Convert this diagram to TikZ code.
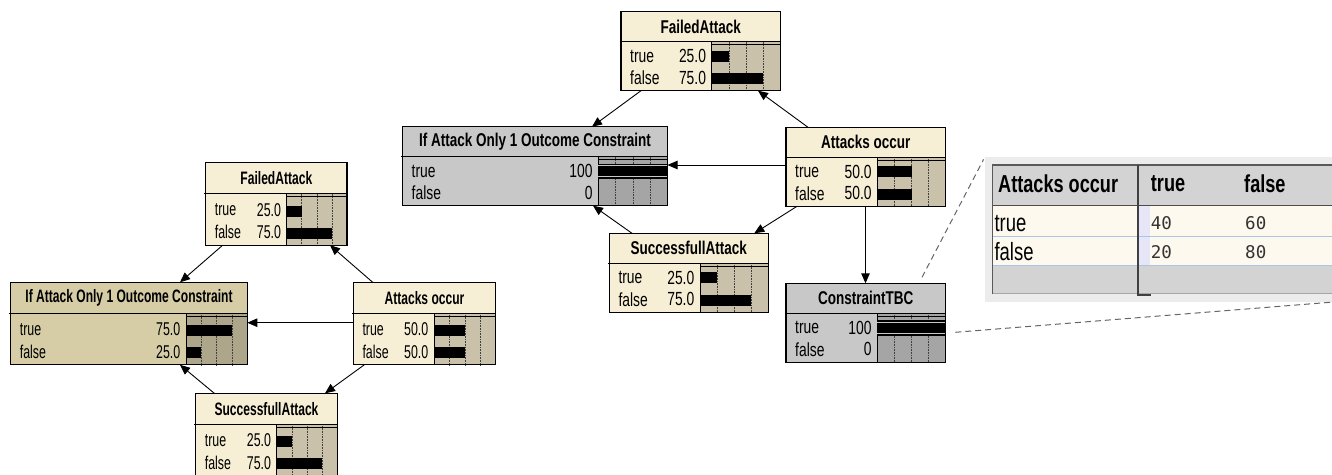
\documentclass[tikz,border=0pt]{standalone}
\usepackage{fontspec}
\setmainfont{Liberation Sans}
\newfontfamily\bnfontL{Liberation Sans}[FakeStretch=0.67]
\newfontfamily\bnfontR{Liberation Sans}[FakeStretch=0.73]
\newfontfamily\cptfont{Liberation Sans}[FakeStretch=0.74]
\newfontfamily\cptmono{DejaVu Sans Mono}
\usetikzlibrary{arrows.meta,calc}

% node palettes
\definecolor{creambody}{HTML}{F7EFD5}
\definecolor{creambar}{HTML}{C9C1A9}
\definecolor{khakibody}{HTML}{D6CDA7}
\definecolor{khakibar}{HTML}{ADA68B}
\definecolor{greybody}{HTML}{C8C8C8}
\definecolor{greybar}{HTML}{A5A5A5}
% probability table colours
\definecolor{cptpanel}{HTML}{ECECEC}
\definecolor{cpthead}{HTML}{D3D3D3}
\definecolor{cptrow}{HTML}{FDF9EF}
\definecolor{cptsel}{HTML}{E6E6F8}
\definecolor{cptblue}{HTML}{A9C6E6}
\definecolor{zoomline}{HTML}{666666}

\tikzset{
  bnframe/.style={draw=black, line width=1.2pt, inner sep=0pt, outer sep=0pt},
  bnedge/.style={draw=black, line width=1.2pt},
  bnsep/.style={line width=0.9pt},
  bntick/.style={densely dotted, line width=0.6pt, black!75},
  bntitle/.style={font=\bnfont\bfseries\fontsize{\bntsize}{\bntsize}\selectfont, inner sep=0pt},
  bntext/.style={font=\bnfont\fontsize{\bnsize}{\bnsize}\selectfont, inner sep=0pt},
  fullgap/.style={draw=greybody, line width=0.8pt},
  conn/.style={-{Triangle[length=10pt,width=8.5pt]}, line width=0.9pt},
  zoomdash/.style={draw=zoomline, line width=1pt, dash pattern=on 6pt off 4pt},
  cpthdr/.style={font=\cptfont\bfseries\fontsize{24.5}{26}\selectfont, inner sep=0pt, anchor=west},
  cpttxt/.style={font=\cptfont\fontsize{25}{26}\selectfont, inner sep=0pt, anchor=west},
  cptnum/.style={font=\cptmono\fontsize{17.5}{20}\selectfont, text=black!80, inner sep=0pt, anchor=west},
}

% #1 name, #2 x, #3 y (top), #4 width, #5 bar area width, #6 palette, #7 title
\newcommand\bnnode[7]{%
  \node[bnframe, fill=#6body, minimum width=#4pt, minimum height=\bnh, anchor=north west] (#1) at (#2,#3) {};
  \fill[#6bar] ([xshift=-#5pt, yshift=-\bnt]#1.north east) rectangle (#1.south east);
  \foreach \f in {0.25,0.5,0.75}
    \draw[bntick] ([xshift=-#5pt+\f*#5pt, yshift=-\bnt]#1.north east) -- ([xshift=-#5pt+\f*#5pt]#1.south east);
  \draw[line width=0.6pt] ([xshift=-#5pt, yshift=-\bnt-2.5pt]#1.north east) -- ([yshift=-\bnt-2.5pt]#1.north east);
  \draw[bnsep] ([xshift=-1.5pt, yshift=-\bnt]#1.north west) -- ([yshift=-\bnt]#1.north east);
  \draw[bnsep] ([xshift=-#5pt, yshift=-\bnt]#1.north east) -- ([xshift=-#5pt]#1.south east);
  \node[bntitle] (#1-title) at ([yshift=-\bnt/2]#1.north) {#7};
}
% #1 name, #2 text offset, #3 bar offset, #4 label, #5 value, #6 percent, #7 bar area width
\newcommand\bnrow[7]{%
  \node[bntext, anchor=west] (#1-#4) at ([xshift=9pt, yshift=-\bnt-#2pt]#1.north west) {#4};
  \node[bntext, anchor=east] (#1-#4v) at ([xshift=-#7pt-5.5pt, yshift=-\bnt-#2pt]#1.north east) {#5};
  \fill ([xshift=-#7pt, yshift=-\bnt-#3pt]#1.north east) rectangle ++({#6*#7/100*1pt}, -\bnbar);
}
% a state at 100 percent: full-width bar with light inner rules
\newcommand\bnfull[3]{%
  \fill ([xshift=-#3pt, yshift=-\bnt-#2pt+2pt]#1.north east) rectangle ([yshift=-\bnt-#2pt-\bnbar-2.5pt]#1.north east);
  \draw[fullgap] ([xshift=-#3pt, yshift=-\bnt-#2pt]#1.north east) -- ++(#3pt,0pt);
  \draw[fullgap] ([xshift=-#3pt, yshift=-\bnt-#2pt-\bnbar]#1.north east) -- ++(#3pt,0pt);
}
\newcommand\bnclose[1]{\draw[bnedge] (#1.north west) rectangle (#1.south east);}

\begin{document}
\begin{tikzpicture}[x=1pt, y=-1pt]
\clip (0,0) rectangle (1332,474);

% ---------- left network ----------
\let\bnfont\bnfontL
\def\bnsize{18.5}\def\bntsize{18}
\def\bnh{82.5pt}\def\bnt{31pt}\def\bnbar{11pt}

\bnnode{fa1}{205.7}{162.7}{141.3}{60.3}{cream}{FailedAttack}
\bnrow{fa1}{16}{12}{true}{25.0}{25}{60.3}
\bnrow{fa1}{38.5}{34}{false}{75.0}{75}{60.3}
\bnclose{fa1}

\bnnode{ia1}{10.7}{282.3}{236.6}{61.3}{khaki}{If Attack Only 1 Outcome Constraint}
\bnrow{ia1}{16}{12}{true}{75.0}{75}{61.3}
\bnrow{ia1}{38.5}{34}{false}{25.0}{25}{61.3}
\bnclose{ia1}

\bnnode{ao1}{353.3}{282.3}{142.4}{61.7}{cream}{Attacks occur}
\bnrow{ao1}{16}{12}{true}{50.0}{50}{61.7}
\bnrow{ao1}{38.5}{34}{false}{50.0}{50}{61.7}
\bnclose{ao1}

\bnnode{sa1}{195.7}{393.3}{141.6}{60.6}{cream}{SuccessfullAttack}
\bnrow{sa1}{16}{12}{true}{25.0}{25}{60.6}
\bnrow{sa1}{38.5}{34}{false}{75.0}{75}{60.6}
\bnclose{sa1}

\draw[conn] ([xshift=17pt]fa1.south west) -- ([xshift=169.3pt]ia1.north west);
\draw[conn] ([xshift=19.4pt]ao1.north west) -- ([xshift=124.3pt]fa1.south west);
\draw[conn] ([yshift=-40.4pt]ao1.north west) -- ([yshift=-40.4pt]ao1.north west -| ia1.east);
\draw[conn] ([xshift=11pt]ao1.south west) -- ([xshift=129.3pt]sa1.north west);
\draw[conn] ([xshift=18.6pt]sa1.north west) -- ([xshift=169.3pt]ia1.south west);

% ---------- right network ----------
\let\bnfont\bnfontR
\def\bnsize{19}\def\bntsize{18.5}
\def\bnh{79pt}\def\bnt{30pt}\def\bnbar{11pt}

\bnnode{fa2}{621}{11.7}{159.3}{68.6}{cream}{FailedAttack}
\bnrow{fa2}{14.5}{9}{true}{25.0}{25}{68.6}
\bnrow{fa2}{36}{31.5}{false}{75.0}{75}{68.6}
\bnclose{fa2}

\bnnode{ia2}{402.5}{126.7}{265}{69.2}{grey}{If Attack Only 1 Outcome Constraint}
\bnrow{ia2}{14.5}{9}{true}{100}{0}{69.2}
\bnfull{ia2}{9}{69.2}
\bnrow{ia2}{36}{31.5}{false}{0}{0}{69.2}
\bnclose{ia2}

\bnnode{ao2}{786}{127.3}{159.7}{68.4}{cream}{Attacks occur}
\bnrow{ao2}{14.5}{9}{true}{50.0}{50}{68.4}
\bnrow{ao2}{36}{31.5}{false}{50.0}{50}{68.4}
\bnclose{ao2}

\bnnode{sa2}{609.3}{233.3}{159}{68.3}{cream}{SuccessfullAttack}
\bnrow{sa2}{14.5}{9}{true}{25.0}{25}{68.3}
\bnrow{sa2}{36}{31.5}{false}{75.0}{75}{68.3}
\bnclose{sa2}

\bnnode{tbc}{786}{283.3}{159.3}{68}{grey}{ConstraintTBC}
\bnrow{tbc}{14.5}{9}{true}{100}{0}{68}
\bnfull{tbc}{9}{68}
\bnrow{tbc}{36}{31.5}{false}{0}{0}{68}
\bnclose{tbc}

\draw[conn] ([xshift=20pt]fa2.south west) -- ([xshift=189.5pt]ia2.north west);
\draw[conn] ([xshift=22pt]ao2.north west) -- ([xshift=137pt]fa2.south west);
\draw[conn] ([yshift=-37.7pt]ao2.north west) -- ([yshift=-37.7pt]ao2.north west -| ia2.east);
\draw[conn] ([xshift=11pt]ao2.south west) -- ([xshift=145pt]sa2.north west);
\draw[conn] ([xshift=22.7pt]sa2.north west) -- ([xshift=190.5pt]ia2.south west);
\draw[conn] ([xshift=79.5pt]ao2.south west) -- ([xshift=79.5pt]ao2.south west |- tbc.north);

% ---------- conditional probability table ----------
\begin{scope}[shift={(985,156.7)}]
  \node[fill=cptpanel, inner sep=0pt, minimum width=347pt, minimum height=145pt, anchor=north west] (cpt) at (0,0) {};
  \fill[cpthead] (7.7,8.3) rectangle (347,49);
  \fill[cptrow] (7.7,49) rectangle (347,109);
  \fill[cptsel] (153.3,49) rectangle (165,109);
  \fill[cpthead] (7.7,109) rectangle (347,136);
  \draw[cptblue, line width=0.8pt] (7.7,80) -- (347,80);
  \draw[cptblue, line width=0.8pt] (7.7,109) -- (347,109);
  \draw[black!70, line width=1pt] (7.7,49) -- (347,49);
  \draw[black!35, line width=0.8pt] (7.7,136.5) -- (347,136.5);
  \draw[black!65, line width=1.3pt] (7.7,137.5) -- (7.7,8.3) -- (347,8.3);
  \draw[black!75, line width=2pt] (153.3,8.3) -- (153.3,138.5) -- (165.7,138.5);
  \node[cpthdr] (cpt-head) at (13,26.6) {Attacks occur};
  \node[cpthdr] (cpt-htrue) at (165.7,26.6) {true};
  \node[cpthdr] (cpt-hfalse) at (259,26.6) {false};
  \node[cpttxt] (cpt-rtrue) at (9.3,66.6) {true};
  \node[cpttxt] (cpt-rfalse) at (9.3,95) {false};
  \node[cptnum] (cpt-a) at (165.7,66.6) {40};
  \node[cptnum] (cpt-b) at (260,66.6) {60};
  \node[cptnum] (cpt-c) at (165.7,95) {20};
  \node[cptnum] (cpt-d) at (260,95) {80};
\end{scope}

% callout lines from ConstraintTBC to its table
\coordinate (zoomA) at ([xshift=136pt, yshift=6pt]tbc.north west);
\coordinate (zoomB) at ([xshift=10pt, yshift=-9.5pt]tbc.east);
\draw[zoomdash, shorten >=3pt] (zoomA) -- (cpt.north west);
\draw[zoomdash] (zoomB) -- (cpt.south east);
\end{tikzpicture}
\end{document}
